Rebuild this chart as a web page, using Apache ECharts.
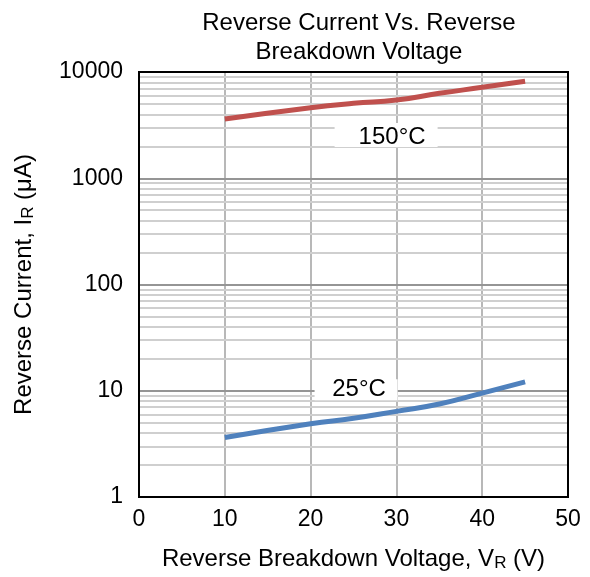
<!DOCTYPE html>
<html><head><meta charset="utf-8">
<script src="https://cdn.jsdelivr.net/npm/echarts@6/dist/echarts.min.js"></script>
<style>html,body{margin:0;padding:0;background:#fff}#c{width:590px;height:577px}</style>
</head><body><div id="c"></div>
<script>
const voltage = [10, 20, 25, 30, 35, 40, 45];
const current150 = [3610, 4610, 5070, 5450, 6300, 7180, 8200];
const current25 = [3.63, 4.9, 5.5, 6.4, 7.5, 9.5, 12.1];
const xTicks = [0, 10, 20, 30, 40, 50];
const yTicks = [1, 10, 100, 1000, 10000];
const minorMultipliers = [2, 3, 4, 5, 6, 7, 8, 9];
const label150 = { text: '150°C', x: 28.8, y: 2550 };
const label25 = { text: '25°C', x: 25.3, y: 10.2 };

const minorLines = [];
yTicks.slice(0, -1).forEach(d => minorMultipliers.forEach(m => minorLines.push({ yAxis: d * m })));
const majorLines = yTicks.slice(1, -1).map(v => ({ yAxis: v }));

const chart = echarts.init(document.getElementById('c'), null, { renderer: 'canvas' });
const font = 'Liberation Sans, Arial, sans-serif';
const FS = 23;
chart.setOption({
  animation: false,
  title: {
    text: 'Reverse Current Vs. Reverse\nBreakdown Voltage',
    left: 354, top: 4, textAlign: 'center',
    textStyle: { fontFamily: font, fontSize: 24, fontWeight: 'normal', color: '#000', lineHeight: 29 }
  },
  grid: { left: 139, right: 22, top: 72, bottom: 80 },
  xAxis: {
    type: 'value', min: 0, max: 50, interval: 10,
    axisLine: { show: false }, axisTick: { show: false },
    axisLabel: { fontFamily: font, fontSize: FS, color: '#000', margin: 11 },
    splitLine: { show: true, lineStyle: { color: '#a0a0a0', width: 1.5 } },
    name: '{n|Reverse Breakdown Voltage, V}{s|R}{n| (V)}',
    nameLocation: 'middle', nameGap: 50,
    nameTextStyle: { rich: {
      n: { fontFamily: font, fontSize: 24, color: '#000' },
      s: { fontFamily: font, fontSize: 17, color: '#000', padding: [8, 0, 0, 0] }
    } }
  },
  yAxis: {
    type: 'log', logBase: 10, min: 1, max: 10000,
    axisLine: { show: false }, axisTick: { show: false },
    axisLabel: { fontFamily: font, fontSize: FS, color: '#000', margin: 16, formatter: v => String(v) },
    splitLine: { show: false },
    name: '{n|Reverse Current, I}{s|R}{n| (μA)}',
    nameLocation: 'middle', nameGap: 102, nameRotate: 90,
    nameTextStyle: { rich: {
      n: { fontFamily: font, fontSize: 24, color: '#000' },
      s: { fontFamily: font, fontSize: 17, color: '#000', padding: [8, 0, 0, 0] }
    } }
  },
  series: [
    {
      type: 'line', data: [], silent: true, z: 1,
      markLine: {
        silent: true, symbol: 'none', label: { show: false },
        data: minorLines, lineStyle: { color: '#cfcfcf', width: 2, type: 'solid' }
      }
    },
    {
      type: 'line', data: [], silent: true, z: 1,
      markLine: {
        silent: true, symbol: 'none', label: { show: false },
        data: majorLines, lineStyle: { color: '#959595', width: 2, type: 'solid' }
      }
    },
    {
      type: 'line', name: '150°C', smooth: true, showSymbol: false, z: 5,
      data: voltage.map((v, i) => [v, current150[i]]),
      lineStyle: { color: '#C0504D', width: 5 },
      markPoint: {
        symbol: 'rect', symbolSize: [103, 24], itemStyle: { color: '#fff' },
        label: { show: true, formatter: label150.text, fontFamily: font, fontSize: 24, color: '#000', offset: [6, 2] },
        data: [{ coord: [label150.x, label150.y] }]
      }
    },
    {
      type: 'line', name: '25°C', smooth: true, showSymbol: false, z: 5,
      data: voltage.map((v, i) => [v, current25[i]]),
      lineStyle: { color: '#4F81BD', width: 5 },
      markPoint: {
        symbol: 'rect', symbolSize: [83, 21], itemStyle: { color: '#fff' },
        label: { show: true, formatter: label25.text, fontFamily: font, fontSize: 24, color: '#000', offset: [3, 0] },
        data: [{ coord: [label25.x, label25.y] }]
      }
    }
  ],
  graphic: [{
    type: 'rect', shape: { x: 139, y: 72, width: 429, height: 425 },
    style: { fill: 'none', stroke: '#000', lineWidth: 2 }, z: 100, silent: true
  }]
});
</script>
</body></html>
